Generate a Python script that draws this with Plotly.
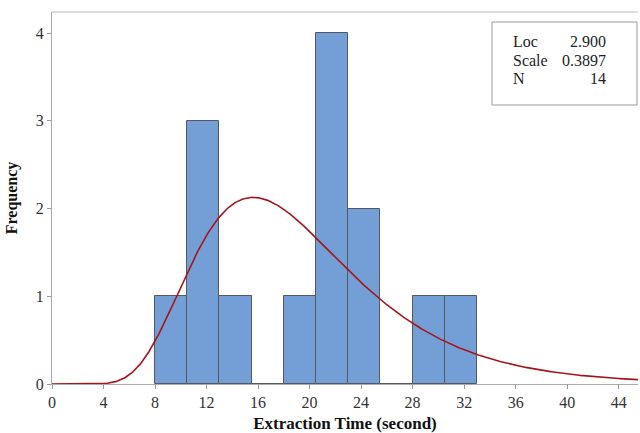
import numpy as np
import plotly.graph_objects as go

# Histogram data (bin edges and counts)
bin_edges = [8.0, 10.5, 13.0, 15.5, 18.0, 20.5, 23.0, 25.5, 28.0, 30.5, 33.0]
counts = [1, 3, 1, 0, 1, 4, 2, 0, 1, 1]

# Fitted lognormal parameters
loc = 2.900
scale = 0.3897
n_obs = 14

x_ticks = [0, 4, 8, 12, 16, 20, 24, 28, 32, 36, 40, 44]
y_ticks = [0, 1, 2, 3, 4]

centers = [(a + b) / 2 for a, b in zip(bin_edges[:-1], bin_edges[1:])]
widths = [b - a for a, b in zip(bin_edges[:-1], bin_edges[1:])]
bw = widths[0]

xs = np.linspace(0.01, 46, 600)
pdf = 1.0 / (xs * scale * np.sqrt(2 * np.pi)) * np.exp(-(np.log(xs) - loc) ** 2 / (2 * scale ** 2))
ys = pdf * n_obs * bw

fig = go.Figure()
fig.add_trace(go.Bar(
    x=centers, y=counts, width=widths,
    marker=dict(color="#749fd6", line=dict(color="#55595f", width=1)),
    showlegend=False,
))
fig.add_trace(go.Scatter(
    x=np.concatenate([[0], xs]), y=np.concatenate([[0], ys]), mode="lines",
    line=dict(color="#a3161c", width=1.6), showlegend=False,
))

font = "Liberation Serif, Times New Roman, serif"
fig.update_layout(
    width=640, height=433,
    margin=dict(l=52, r=2, t=12, b=49),
    paper_bgcolor="white", plot_bgcolor="white",
    font=dict(family=font, size=16, color="#222"),
    bargap=0,
    xaxis=dict(
        range=[0, 45.5], tickvals=x_ticks, ticks="outside", ticklen=4,
        tickcolor="#999", showline=True, linecolor="#aaa", linewidth=1,
        mirror=False, showgrid=False, zeroline=False, automargin=False,
        title=dict(text="<b>Extraction Time (second)</b>", font=dict(size=17, family=font, color="#111"), standoff=6),
        tickfont=dict(size=16, family=font, color="#333"),
    ),
    yaxis=dict(
        range=[0, 4.24], tickvals=y_ticks, ticks="outside", ticklen=4,
        tickcolor="#999", showline=True, linecolor="#aaa", linewidth=1,
        showgrid=False, zeroline=False, automargin=False,
        title=dict(text="<b>Frequency</b>", font=dict(size=16, family=font, color="#111"), standoff=14),
        tickfont=dict(size=16, family=font, color="#333"),
    ),
)
# top border line of frame
fig.add_shape(type="line", xref="paper", yref="paper", x0=0, x1=1, y0=1, y1=1,
              line=dict(color="#bbb", width=1))

# Parameter box
fig.add_shape(type="rect", xref="paper", yref="paper",
              x0=(492 - 52) / 586, x1=(637 - 52) / 586,
              y0=(384 - 105) / 372, y1=(384 - 22) / 372,
              line=dict(color="#999", width=1), fillcolor="white")
labels = ["Loc", "Scale", "N"]
values = [f"{loc:.3f}", f"{scale:.4f}", f"{n_obs}"]
for i, (lab, val) in enumerate(zip(labels, values)):
    ypix = 41 + i * 19
    fig.add_annotation(xref="paper", yref="paper", x=(511 - 52) / 586, y=(384 - ypix) / 372,
                       text=lab, showarrow=False, xanchor="left", yanchor="middle",
                       font=dict(size=16, family=font, color="#222"))
    fig.add_annotation(xref="paper", yref="paper", x=(608 - 52) / 586, y=(384 - ypix) / 372,
                       text=val, showarrow=False, xanchor="right", yanchor="middle",
                       font=dict(size=16, family=font, color="#222"))

fig.write_html("out.html", config={"displayModeBar": False},
               post_script="document.body.style.margin='0';document.body.style.overflow='hidden';")
